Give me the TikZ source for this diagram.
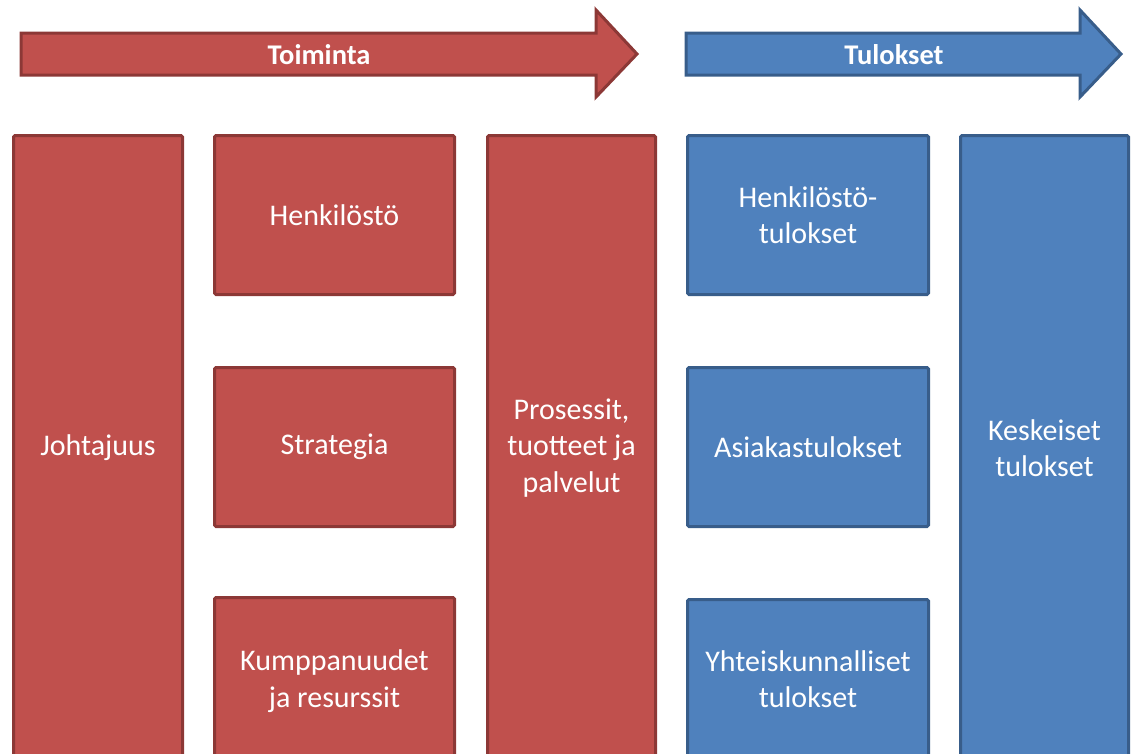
\documentclass[tikz,border=0pt]{standalone}
\usepackage{fontspec}
\setmainfont{Carlito}
\definecolor{redfill}{HTML}{C0504D}
\definecolor{redline}{HTML}{8C3836}
\definecolor{bluefill}{HTML}{4F81BD}
\definecolor{blueline}{HTML}{385D8A}
\begin{document}
\begin{tikzpicture}[x=1pt,y=-1pt,
  box/.style={rectangle, draw, line width=3pt, rounded corners=1.5pt, text=white, align=center,
    font=\fontsize{30}{36.5}\selectfont, inner sep=0pt},
  redbox/.style={box, fill=redfill, draw=redline},
  bluebox/.style={box, fill=bluefill, draw=blueline},
  arrowshape/.style={line width=3pt, line join=miter},
  title/.style={text=white, font=\fontsize{28.5}{34}\selectfont\bfseries, inner sep=0pt}]
\useasboundingbox (0,0) rectangle (1132,753);
\clip (0,0) rectangle (1132,753);
% arrows
\draw[arrowshape, fill=redfill, draw=redline] (21,33) -- (596,33) -- (596,10) -- (637,54) -- (596,97) -- (596,75) -- (21,75) -- cycle;
\node[title] (toiminta) at (319,55) {Toiminta};
\draw[arrowshape, fill=bluefill, draw=blueline] (686,33) -- (1080,33) -- (1080,10) -- (1121,54) -- (1080,97) -- (1080,75) -- (686,75) -- cycle;
\node[title] (tulokset) at (894,55) {Tulokset};
% red boxes
\node[redbox, minimum width=169pt, minimum height=625pt] (johtajuus) at (98,448) {\raisebox{-2pt}{Johtajuus}};
\node[redbox, minimum width=240pt, minimum height=159pt] (henkilosto) at (334.5,215) {\raisebox{-2pt}{Henkilöstö}};
\node[redbox, minimum width=240pt, minimum height=159pt] (strategia) at (334.5,447) {\raisebox{-2pt}{Strategia}};
\node[redbox, minimum width=240pt, minimum height=167pt] (kumppanuudet) at (334.5,681) {Kumppanuudet\\ja resurssit};
\node[redbox, minimum width=168pt, minimum height=625pt] (prosessit) at (571.5,448) {Prosessit,\\tuotteet ja\\palvelut};
% blue boxes
\node[bluebox, minimum width=241pt, minimum height=159pt] (henktulokset) at (808,215) {Henkilöstö-\\tulokset};
\node[bluebox, minimum width=241pt, minimum height=159pt] (asiakas) at (808,447) {\raisebox{-2pt}{Asiakastulokset}};
\node[bluebox, minimum width=241pt, minimum height=159pt] (yhteis) at (808,679) {Yhteiskunnalliset\\tulokset};
\node[bluebox, minimum width=168pt, minimum height=625pt] (keskeiset) at (1044.5,448) {Keskeiset\\tulokset};
\end{tikzpicture}
\end{document}
